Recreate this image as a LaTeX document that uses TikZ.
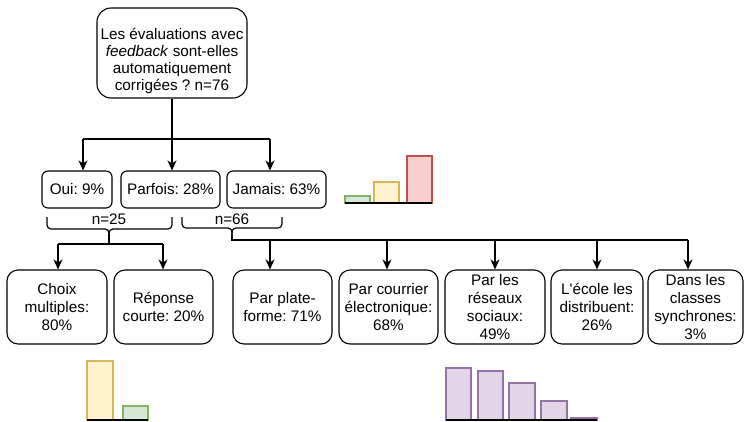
\documentclass[tikz,border=0pt]{standalone}
\usepackage{fontspec}
\setmainfont{Liberation Sans}[Ligatures=TeXOff]
\frenchspacing
\usetikzlibrary{arrows.meta}
\definecolor{gfill}{HTML}{D5E8D4}\definecolor{gline}{HTML}{82B366}
\definecolor{yfill}{HTML}{FFF2CC}\definecolor{yline}{HTML}{D6B656}
\definecolor{rfill}{HTML}{F8CECC}\definecolor{rline}{HTML}{B85450}
\definecolor{pfill}{HTML}{E1D5E7}\definecolor{pline}{HTML}{9673A6}
\tikzset{
  box/.style={draw, line width=1.1pt, align=center, inner sep=1pt,
    font=\fontsize{15.3}{17.8}\selectfont},
  midbox/.style={box, minimum height=37, rounded corners=6},
  lowbox/.style={box, minimum height=74, rounded corners=11},
  conn/.style={line width=1.2pt},
  arr/.style={conn, -{Stealth[length=10pt,width=9pt,inset=3pt]}},
  lbl/.style={font=\fontsize{15.3}{17.8}\selectfont, inner sep=0pt},
  bar/.style={line width=1.4pt},
  base/.style={line width=1.2pt}
}
\begin{document}
\begin{tikzpicture}[x=1pt,y=-1pt]
\useasboundingbox (0,0) rectangle (744,421);
% top question
\node[box, minimum width=150, minimum height=90, rounded corners=14,
      font=\fontsize{15.3}{17}\selectfont] (q) at (172,53)
  {\rule{0pt}{28pt}Les évaluations avec\\\textit{feedback} sont-elles\\automatiquement\\corrigées ? n=76};
% middle row
\node[midbox, minimum width=70] (oui) at (77,189.5) {Oui: 9\%};
\node[midbox, minimum width=99] (parfois) at (170.5,189.5) {Parfois: 28\%};
\node[midbox, minimum width=99] (jamais) at (276.5,189.5) {Jamais: 63\%};
% bottom row
\node[lowbox, minimum width=100] (choix) at (57,307) {Choix\\multiples:\\80\%};
\node[lowbox, minimum width=99] (rep) at (163.5,307) {Réponse\\courte: 20\%};
\node[lowbox, minimum width=99] (plat) at (282.5,307) {Par plate-\\forme: 71\%};
\node[lowbox, minimum width=99] (mail) at (388.5,307) {Par courrier\\électronique:\\68\%};
\node[lowbox, minimum width=100] (res) at (495,307) {Par les\\réseaux\\sociaux:\\49\%};
\node[lowbox, minimum width=92] (ecole) at (597,307) {L'école les\\distribuent:\\26\%};
\node[lowbox, minimum width=95] (sync) at (695.5,307) {Dans les\\classes\\synchrones:\\3\%};
% top connectors
\coordinate (jL) at (83,139);
\coordinate (jR) at (270,139);
\draw[conn] (jL) -- (jR);
\draw[arr] (q.south) -- (q.south |- parfois.north);
\draw[arr] (jL) -- (jL |- oui.north);
\draw[arr] (jR) -- (jR |- jamais.north);
% braces
\node[lbl] (n25) at (109,219) {n=25};
\node[lbl] (n66) at (232,219) {n=66};
\coordinate (b1a) at (47,217); \coordinate (b1b) at (172,217); \coordinate (b1t) at (109,234);
\coordinate (b2a) at (182,217); \coordinate (b2b) at (282,217); \coordinate (b2t) at (232,236);
\draw[conn, rounded corners=4] (b1a) -- (47,229) -- (109,229) -- (b1t);
\draw[conn, rounded corners=4] (b1b) -- (172,229) -- (109,229) -- (b1t);
\draw[conn, rounded corners=4] (b2a) -- (182,228) -- (232,228) -- (b2t);
\draw[conn, rounded corners=4] (b2b) -- (282,228) -- (232,228) -- (b2t);
% lower-left connectors
\coordinate (h1) at (109,244);
\coordinate (h1L) at (58,244);
\coordinate (h1R) at (163,244);
\draw[conn] (b1t) -- (h1);
\draw[conn] (h1L) -- (h1R);
\draw[arr] (h1L) -- (h1L |- choix.north);
\draw[arr] (h1R) -- (h1R |- rep.north);
% lower-right connectors
\coordinate (h2) at (232,240);
\coordinate (a1) at (270,240);
\coordinate (a2) at (387,240);
\coordinate (a3) at (495,240);
\coordinate (a4) at (597,240);
\coordinate (a5) at (688,240);
\draw[conn] (b2t) -- (h2) -- (a5);
\draw[arr] (a1) -- (a1 |- plat.north);
\draw[arr] (a2) -- (a2 |- mail.north);
\draw[arr] (a3) -- (a3 |- res.north);
\draw[arr] (a4) -- (a4 |- ecole.north);
\draw[arr] (a5) -- (a5 |- sync.north);
% top-right chart
\draw[bar, draw=gline, fill=gfill] (345,196) rectangle (370,203);
\draw[bar, draw=yline, fill=yfill] (374,182) rectangle (399,203);
\draw[bar, draw=rline, fill=rfill] (407,156) rectangle (432,203);
\draw[base] (345,203) -- (432,203);
% bottom-left chart
\draw[bar, draw=yline, fill=yfill] (87,361) rectangle (113,420);
\draw[bar, draw=gline, fill=gfill] (123,406) rectangle (148,420);
\draw[base] (87,420) -- (148,420);
% bottom-right chart
\draw[bar, draw=pline, fill=pfill] (446,368) rectangle (471,420);
\draw[bar, draw=pline, fill=pfill] (478,371) rectangle (503,420);
\draw[bar, draw=pline, fill=pfill] (509,383) rectangle (535,420);
\draw[bar, draw=pline, fill=pfill] (541,401) rectangle (567,420);
\draw[bar, draw=pline, fill=pfill] (571,418) rectangle (597,420);
\draw[base] (446,420) -- (597,420);
\end{tikzpicture}
\end{document}
